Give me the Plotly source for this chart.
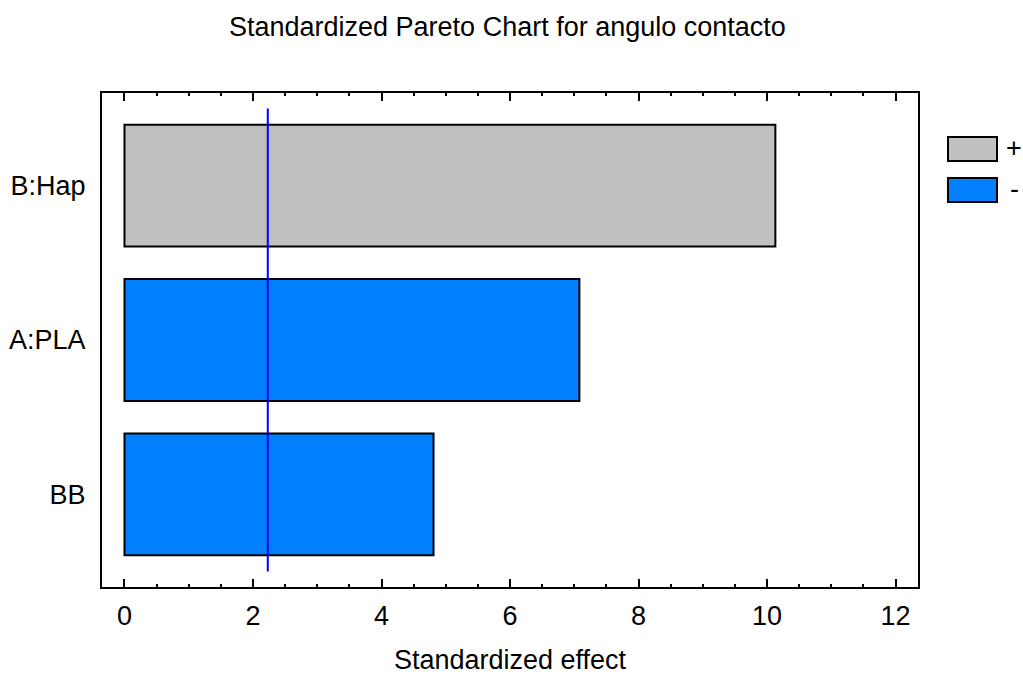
import plotly.graph_objects as go

# Standardized effects (signed) for each term of the model
terms = ["BB", "A:PLA", "B:Hap"]
effects = [-4.81, -7.08, 10.13]
critical_value = 2.23  # t critical value for significance

x_ticks = [0, 2, 4, 6, 8, 10, 12]

pos_color = "#C0C0C0"
neg_color = "#0080FF"
font_family = "Liberation Sans, Arial, sans-serif"
FS = 27

W, H = 1023, 675
ML, MR, MT, MB = 102, 105, 93, 88

magnitudes = [abs(v) for v in effects]
colors = [pos_color if v > 0 else neg_color for v in effects]

fig = go.Figure()
fig.add_trace(go.Bar(
    x=magnitudes,
    y=terms,
    orientation="h",
    width=0.79,
    marker=dict(color=colors, line=dict(color="black", width=2)),
    showlegend=False,
    hoverinfo="x+y",
))

# significance threshold line
fig.add_shape(type="line", xref="x", yref="y",
              x0=critical_value, x1=critical_value, y0=-0.5, y1=len(terms) - 0.5,
              line=dict(color="#0000FF", width=2))

# legend swatches (+ / -) drawn at the right of the plot area
plot_w = W - ML - MR
plot_h = H - MT - MB

def px_to_paper_x(px):
    return (px - ML) / plot_w

def px_to_paper_y(py):
    return (H - MB - py) / plot_h

legend_items = [("+", pos_color, 137), ("-", neg_color, 178)]
for label, col, top in legend_items:
    fig.add_shape(type="rect", xref="paper", yref="paper",
                  x0=px_to_paper_x(948), x1=px_to_paper_x(997),
                  y0=px_to_paper_y(top + 24), y1=px_to_paper_y(top),
                  fillcolor=col, line=dict(color="black", width=2))
    fig.add_annotation(xref="paper", yref="paper",
                       x=px_to_paper_x(1014), y=px_to_paper_y(top + 11),
                       text=label, showarrow=False, xanchor="center", yanchor="middle",
                       borderpad=0,
                       font=dict(family=font_family, size=FS, color="black"))

fig.update_layout(
    width=W, height=H,
    margin=dict(l=ML, r=MR, t=MT, b=MB, pad=0),
    paper_bgcolor="white", plot_bgcolor="white",
    title=dict(text="Standardized Pareto Chart for angulo contacto",
               x=0.496, xanchor="center", y=1 - 27 / H, yanchor="middle",
               font=dict(family=font_family, size=FS, color="black")),
    font=dict(family=font_family, size=FS, color="black"),
    bargap=0.2,
)

fig.update_xaxes(
    automargin=False,
    range=[-0.35, 12.35],
    tickvals=x_ticks,
    ticks="inside", ticklen=8, tickwidth=2, tickcolor="black",
    minor=dict(dtick=0.5, ticks="inside", ticklen=3, tickwidth=2, tickcolor="black"),
    showline=True, linecolor="black", linewidth=2, mirror="ticks",
    showgrid=False, zeroline=False, ticklabelstandoff=4,
    tickfont=dict(family=font_family, size=FS, color="black"),
    title=dict(text="Standardized effect", standoff=22,
               font=dict(family=font_family, size=FS, color="black")),
)

fig.update_yaxes(
    automargin=False,
    categoryorder="array", categoryarray=terms,
    range=[-0.6, len(terms) - 0.4],
    ticks="", showline=True, linecolor="black", linewidth=2, mirror=True,
    showgrid=False, zeroline=False, ticklabelstandoff=9,
    tickfont=dict(family=font_family, size=FS, color="black"),
)

fig.write_html("out.html")
